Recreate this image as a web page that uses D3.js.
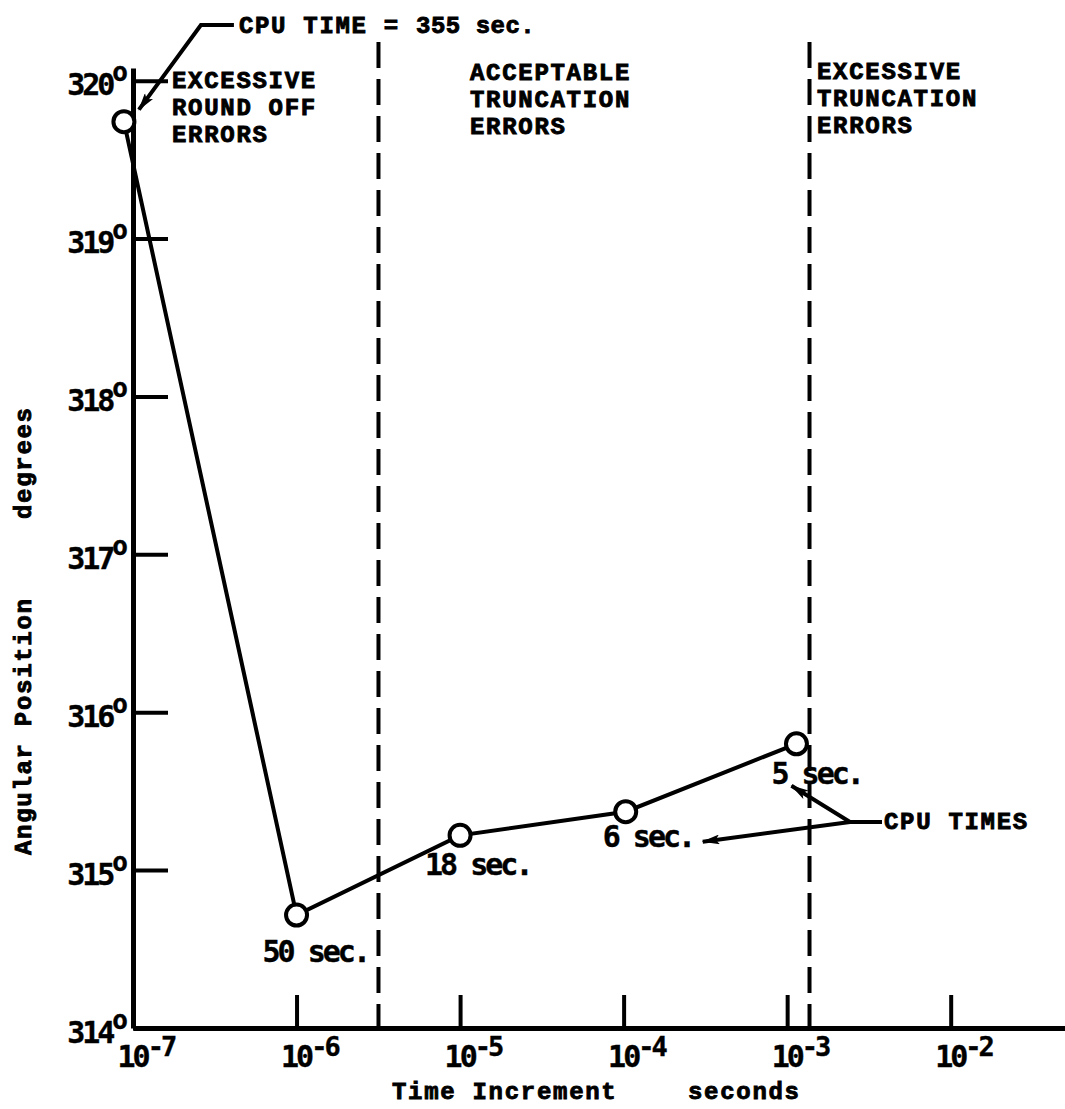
<!DOCTYPE html>
<html>
<head>
<meta charset="utf-8">
<script src="https://cdn.jsdelivr.net/npm/d3@7"></script>
<style>
  body { margin: 0; background: #fff; }
  .typeA { font-family: "DejaVu Sans Mono", monospace; font-weight: bold; font-size: 30px; letter-spacing: -3px; fill: #000; stroke: #000; stroke-width: 0.4px; }
  .typeB { font-family: "Liberation Mono", monospace; font-weight: bold; font-size: 24px; letter-spacing: 1.7px; fill: #000; stroke: #000; stroke-width: 0.9px; }
</style>
</head>
<body>
<div id="chart-area"></div>
<script>
// values
const timeIncrement = [8.8e-8, 1e-6, 1e-5, 1.03e-4, 1.14e-3];
const angularPosition = [319.74, 314.715, 315.22, 315.37, 315.80];
const cpuTimes = ["355 sec.", "50 sec.", "18 sec.", "6 sec.", "5 sec."];
const xTickExps = [-7, -6, -5, -4, -3, -2];
const yTicks = [314, 315, 316, 317, 318, 319, 320];
const regionBounds = [3.17e-6, 1.37e-3];
const regionLabels = [
    ["EXCESSIVE", "ROUND OFF", "ERRORS"],
    ["ACCEPTABLE", "TRUNCATION", "ERRORS"],
    ["EXCESSIVE", "TRUNCATION", "ERRORS"]
];

const W = 1065, H = 1109;

const svg = d3.select("#chart-area")
    .append("svg")
    .attr("width", W)
    .attr("height", H);

const defs = svg.append("defs");
defs.append("marker")
    .attr("id", "head")
    .attr("markerUnits", "userSpaceOnUse")
    .attr("viewBox", "0 0 18 10")
    .attr("refX", 17)
    .attr("refY", 5)
    .attr("markerWidth", 18)
    .attr("markerHeight", 10)
    .attr("orient", "auto")
    .append("path")
    .attr("d", "M0,0 L18,5 L0,10 L4,5 z")
    .attr("fill", "#000");

const xScale = d3.scaleLog()
    .domain([1e-7, 0.05])
    .range([133, W]);

const yScale = d3.scaleLinear()
    .domain([314, 320.08])
    .range([1028, 68]);

// axes, ticks pointing into the plot
const xAxis = d3.axisBottom(xScale)
    .tickValues(xTickExps.map(e => Math.pow(10, e)))
    .tickSizeInner(-33)
    .tickSizeOuter(0)
    .tickFormat("");

const yAxis = d3.axisLeft(yScale)
    .tickValues(yTicks)
    .tickSizeInner(-35)
    .tickSizeOuter(0)
    .tickFormat("");

const gx = svg.append("g")
    .attr("transform", `translate(0, ${yScale(314)})`)
    .call(xAxis);
const gy = svg.append("g")
    .attr("transform", `translate(${xScale(1e-7)}, 0)`)
    .call(yAxis);

svg.selectAll(".domain").attr("stroke", "#000").attr("stroke-width", 5);
svg.selectAll(".tick line").attr("stroke", "#000").attr("stroke-width", 4);

// x tick labels 10^n
gx.selectAll(".tick").each(function(d, i) {
    const t = d3.select(this).append("text")
        .attr("class", "typeA")
        .attr("x", -16)
        .attr("y", 39)
        .attr("text-anchor", "start")
        .text("10");
    t.append("tspan")
        .attr("dy", -11)
        .style("font-size", "27px")
        .text("-" + Math.abs(xTickExps[i]));
});

// y tick labels with degree mark
gy.selectAll(".tick").each(function(d) {
    const t = d3.select(this).append("text")
        .attr("class", "typeA")
        .attr("x", -5)
        .attr("y", 14)
        .attr("text-anchor", "end")
        .text(d);
    t.append("tspan")
        .attr("dy", -14)
        .style("font-size", "26px")
        .style("letter-spacing", "0px")
        .text("o");
});

// region separators
svg.selectAll(".bound")
    .data(regionBounds)
    .enter()
    .append("line")
    .attr("class", "bound")
    .attr("x1", d => xScale(d))
    .attr("x2", d => xScale(d))
    .attr("y1", 42)
    .attr("y2", yScale(314))
    .attr("stroke", "#000")
    .attr("stroke-width", 4)
    .attr("stroke-dasharray", "26,11");

// region captions
const captionX = [172, 470, 817];
const captionY = [88, 80, 79];
regionLabels.forEach((lines, i) => {
    const t = svg.append("text")
        .attr("class", "typeB")
        .attr("x", captionX[i])
        .attr("y", captionY[i]);
    lines.forEach((ln, j) => {
        t.append("tspan")
            .attr("x", captionX[i])
            .attr("dy", j === 0 ? 0 : 27)
            .text(ln);
    });
});

// data line
const pts = timeIncrement.map((t, i) => [xScale(t), yScale(angularPosition[i])]);

svg.append("path")
    .datum(pts)
    .attr("d", d3.line())
    .attr("fill", "none")
    .attr("stroke", "#000")
    .attr("stroke-width", 4);

svg.selectAll(".pt")
    .data(pts)
    .enter()
    .append("circle")
    .attr("class", "pt")
    .attr("cx", d => d[0])
    .attr("cy", d => d[1])
    .attr("r", 10.5)
    .attr("fill", "#fff")
    .attr("stroke", "#000")
    .attr("stroke-width", 4);

// cpu time labels under points
const labelOffsets = [null, [-34, 47], [-35, 40], [-23, 35], [-25, 40]];
pts.forEach((p, i) => {
    if (!labelOffsets[i]) return;
    svg.append("text")
        .attr("class", "typeA")
        .attr("x", p[0] + labelOffsets[i][0])
        .attr("y", p[1] + labelOffsets[i][1])
        .text(cpuTimes[i]);
});

// callout for the first point
const p0 = pts[0];
svg.append("path")
    .attr("d", `M${p0[0] + 110},25 L${p0[0] + 77},25 L${p0[0] + 15},${p0[1] - 12}`)
    .attr("fill", "none")
    .attr("stroke", "#000")
    .attr("stroke-width", 4)
    .attr("marker-end", "url(#head)");

const cpuTop = svg.append("text")
    .attr("class", "typeB")
    .attr("x", p0[0] + 115)
    .attr("y", 33)
    .text("CPU TIME = ");
cpuTop.append("tspan")
    .style("letter-spacing", "0.5px")
    .text(cpuTimes[0]);

// CPU TIMES callout
const p4 = pts[4], p3 = pts[3];
const jx = 850, jy = 822;
svg.append("path")
    .attr("d", `M882,${jy} L${jx},${jy} L${p4[0] - 5},${p4[1] + 42}`)
    .attr("fill", "none")
    .attr("stroke", "#000")
    .attr("stroke-width", 4)
    .attr("marker-end", "url(#head)");
svg.append("path")
    .attr("d", `M${jx},${jy} L${p3[0] + 77},${p3[1] + 30}`)
    .attr("fill", "none")
    .attr("stroke", "#000")
    .attr("stroke-width", 4)
    .attr("marker-end", "url(#head)");

svg.append("text")
    .attr("class", "typeB")
    .attr("x", 884)
    .attr("y", 829)
    .text("CPU TIMES");

// axis titles
svg.append("text")
    .attr("class", "typeB")
    .attr("x", 392)
    .attr("y", 1099)
    .text("Time Increment");
svg.append("text")
    .attr("class", "typeB")
    .attr("x", 688)
    .attr("y", 1099)
    .text("seconds");

svg.append("text")
    .attr("class", "typeB")
    .attr("transform", "translate(31, 855) rotate(-90)")
    .text("Angular Position");
svg.append("text")
    .attr("class", "typeB")
    .attr("transform", "translate(31, 519) rotate(-90)")
    .text("degrees");
</script>
</body>
</html>
